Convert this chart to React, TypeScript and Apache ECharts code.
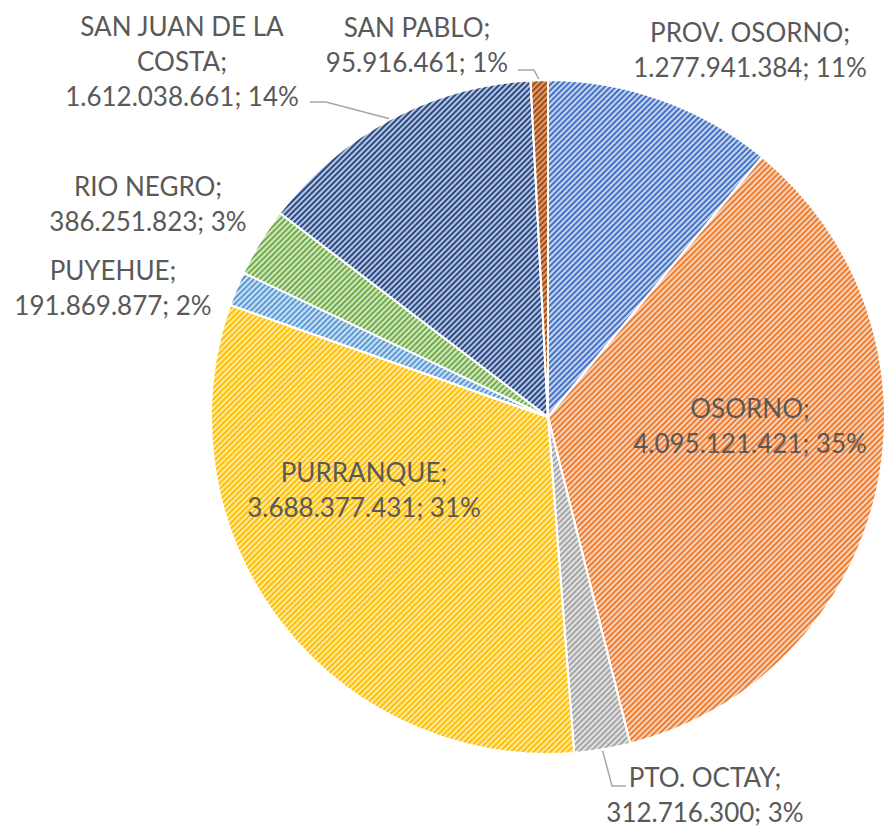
import React, { useEffect, useRef } from "react";
import * as echarts from "echarts";

const names = [
  "PROV. OSORNO",
  "OSORNO",
  "PTO. OCTAY",
  "PURRANQUE",
  "PUYEHUE",
  "RIO NEGRO",
  "SAN JUAN DE LA COSTA",
  "SAN PABLO",
];
const values = [
  1277941384, 4095121421, 312716300, 3688377431, 191869877, 386251823,
  1612038661, 95916461,
];
const fills = [
  "#c6d4ee",
  "#f9d3ba",
  "#e2e2e2",
  "#ffe9a6",
  "#cde0f3",
  "#d2e6c4",
  "#b8c5de",
  "#d79c74",
];
const stripes = [
  "#4472c4",
  "#ed7d31",
  "#a5a5a5",
  "#ffc000",
  "#5b9bd5",
  "#70ad47",
  "#2a4a85",
  "#a44c10",
];
// label centers (layout)
const labelPos: [number, number][] = [
  [750, 49],
  [750, 425],
  [705, 794],
  [364, 489],
  [113, 287],
  [148, 203],
  [182, 61],
  [417, 44],
];
const leaderPts: Record<number, [number, number][]> = {
  2: [
    [612, 786],
    [626, 786],
  ],
  6: [
    [326, 102],
    [310, 102],
  ],
  7: [
    [534, 70],
    [518, 70],
  ],
};

function fmtNum(v: number): string {
  return String(v).replace(/\B(?=(\d{3})+(?!\d))/g, ".");
}
function wrapName(n: string): string {
  if (n.length <= 15) return n;
  const idx = n.lastIndexOf(" ", 15);
  return n.slice(0, idx) + "\n" + n.slice(idx + 1);
}

export default function App() {
  const ref = useRef<HTMLDivElement>(null);
  useEffect(() => {
    if (!ref.current) return;
    const chart = echarts.init(ref.current, undefined, { renderer: "svg" });
    const data = names.map((n, i) => ({
      name: n,
      value: values[i],
      itemStyle: {
        color: fills[i],
        decal: {
          symbol: "rect",
          symbolSize: 1,
          dashArrayX: [1, 0],
          dashArrayY: [2, 2],
          rotation: -Math.PI / 4,
          color: stripes[i],
        },
      },
      labelLine: { show: !!leaderPts[i] },
    }));
    chart.setOption({
      animation: false,
      backgroundColor: "#ffffff",
      series: [
        {
          type: "pie",
          center: [548, 417],
          radius: 337,
          startAngle: 90,
          clockwise: true,
          percentPrecision: 0,
          avoidLabelOverlap: false,
          itemStyle: { borderColor: "#ffffff", borderWidth: 2 },
          label: {
            show: true,
            position: "outside",
            fontFamily: "Lato, 'Liberation Sans', sans-serif",
            fontSize: 26,
            lineHeight: 35,
            color: "#595959",
            align: "center",
            formatter: (p: any) =>
              wrapName(p.name) +
              ";\n" +
              fmtNum(p.value) +
              "; " +
              p.percent +
              "%",
          },
          labelLine: {
            show: true,
            length: 10,
            length2: 10,
            lineStyle: { color: "#a6a6a6", width: 1.5 },
          },
          labelLayout: (params: any) => {
            const i = params.dataIndex;
            const p = labelPos[i];
            const res: any = {
              x: p[0],
              y: p[1],
              align: "center",
              verticalAlign: "middle",
            };
            if (leaderPts[i] && params.labelLinePoints) {
              res.labelLinePoints = [
                params.labelLinePoints[0],
                ...leaderPts[i],
              ];
            }
            return res;
          },
          data,
        },
      ],
    });
    return () => chart.dispose();
  }, []);
  return (
    <div
      ref={ref}
      style={{ position: "fixed", left: 0, top: 0, width: 891, height: 836 }}
    />
  );
}
